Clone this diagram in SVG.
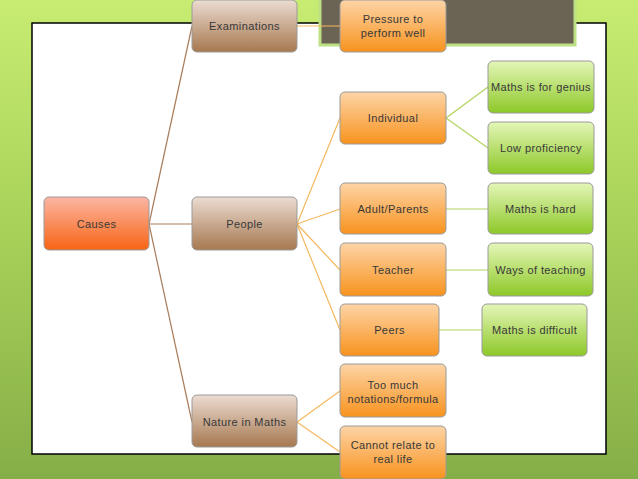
<svg xmlns="http://www.w3.org/2000/svg" width="638" height="479" viewBox="0 0 638 479">
<defs>
<linearGradient id="bg" x1="0" y1="0" x2="0" y2="1">
<stop offset="0" stop-color="#c8ec72"/>
<stop offset="0.5" stop-color="#a6d058"/>
<stop offset="1" stop-color="#86ae48"/>
</linearGradient>
<linearGradient id="gBrown" x1="0" y1="0" x2="0" y2="1">
<stop offset="0" stop-color="#ecdcd2"/>
<stop offset="1" stop-color="#a6784f"/>
</linearGradient>
<linearGradient id="gOrange" x1="0" y1="0" x2="0" y2="1">
<stop offset="0" stop-color="#fdd4a6"/>
<stop offset="1" stop-color="#f8931e"/>
</linearGradient>
<linearGradient id="gGreen" x1="0" y1="0" x2="0" y2="1">
<stop offset="0" stop-color="#e4f6b8"/>
<stop offset="1" stop-color="#8dc828"/>
</linearGradient>
<linearGradient id="gRed" x1="0" y1="0" x2="0" y2="1">
<stop offset="0" stop-color="#fcb6a4"/>
<stop offset="1" stop-color="#f86414"/>
</linearGradient>
</defs>
<style>
.box{stroke:#9a9a9a;stroke-width:1;}
.brown{fill:url(#gBrown);}
.orange{fill:url(#gOrange);}
.green{fill:url(#gGreen);}
.red{fill:url(#gRed);}
text{font-family:"Liberation Sans",Arial,sans-serif;font-size:11px;letter-spacing:0.4px;fill:#383838;text-anchor:middle;}
.c-brown{stroke:#a97c5a;stroke-width:1.2;fill:none;}
.c-orange{stroke:#f5b860;stroke-width:1.2;fill:none;}
.c-green{stroke:#b2d260;stroke-width:1.2;fill:none;}
</style>
<rect x="0" y="0" width="638" height="479" fill="url(#bg)"/>
<rect x="32" y="23" width="574" height="431" fill="#ffffff" stroke="#000" stroke-width="1.5"/>
<rect x="320" y="-3" width="255" height="48" fill="#6b6353" stroke="#bde084" stroke-width="3"/>
<g id="connectors">
<line class="c-brown" x1="149" y1="224" x2="192" y2="26"/>
<line class="c-brown" x1="149" y1="224" x2="192" y2="224"/>
<line class="c-brown" x1="149" y1="224" x2="192" y2="422"/>
<line class="c-orange" x1="297" y1="26" x2="340" y2="26"/>
<line class="c-orange" x1="297" y1="224" x2="340" y2="118"/>
<line class="c-orange" x1="297" y1="224" x2="340" y2="209"/>
<line class="c-orange" x1="297" y1="224" x2="340" y2="270"/>
<line class="c-orange" x1="297" y1="224" x2="340" y2="330"/>
<line class="c-orange" x1="297" y1="422" x2="340" y2="391"/>
<line class="c-orange" x1="297" y1="422" x2="340" y2="452"/>
<line class="c-green" x1="446" y1="118" x2="488" y2="87"/>
<line class="c-green" x1="446" y1="118" x2="488" y2="148"/>
<line class="c-green" x1="446" y1="209" x2="488" y2="209"/>
<line class="c-green" x1="446" y1="270" x2="488" y2="270"/>
<line class="c-green" x1="439" y1="330" x2="482" y2="330"/>
</g>
<g id="causes"><rect class="box red" x="44" y="197" width="105" height="53" rx="5"/><text x="96.5" y="228">Causes</text></g>
<g id="examinations"><rect class="box brown" x="192" y="0" width="105" height="52" rx="5"/><text x="244.5" y="30">Examinations</text></g>
<g id="people"><rect class="box brown" x="192" y="197" width="105" height="53" rx="5"/><text x="244.5" y="228">People</text></g>
<g id="nature"><rect class="box brown" x="192" y="395" width="105" height="52" rx="5"/><text x="244.5" y="426">Nature in Maths</text></g>
<g id="pressure"><rect class="box orange" x="340" y="0" width="106" height="52" rx="5"/><text x="393" y="23">Pressure to</text><text x="393" y="37">perform well</text></g>
<g id="individual"><rect class="box orange" x="340" y="92" width="106" height="52" rx="5"/><text x="393" y="122">Individual</text></g>
<g id="adult"><rect class="box orange" x="340" y="183" width="106" height="51" rx="5"/><text x="393" y="213">Adult/Parents</text></g>
<g id="teacher"><rect class="box orange" x="340" y="243" width="106" height="53" rx="5"/><text x="393" y="274">Teacher</text></g>
<g id="peers"><rect class="box orange" x="340" y="304" width="99" height="52" rx="5"/><text x="389.5" y="334">Peers</text></g>
<g id="toomuch"><rect class="box orange" x="340" y="364" width="106" height="53" rx="5"/><text x="393" y="389">Too much</text><text x="393" y="403">notations/formula</text></g>
<g id="cannot"><rect class="box orange" x="340" y="426" width="106" height="53" rx="5"/><text x="393" y="449">Cannot relate to</text><text x="393" y="463">real life</text></g>
<g id="genius"><rect class="box green" x="488" y="61" width="106" height="52" rx="5"/><text x="541" y="91">Maths is for genius</text></g>
<g id="lowprof"><rect class="box green" x="488" y="122" width="106" height="52" rx="5"/><text x="541" y="152">Low proficiency</text></g>
<g id="hard"><rect class="box green" x="488" y="183" width="105" height="51" rx="5"/><text x="540.5" y="213">Maths is hard</text></g>
<g id="ways"><rect class="box green" x="488" y="243" width="105" height="53" rx="5"/><text x="540.5" y="274">Ways of teaching</text></g>
<g id="difficult"><rect class="box green" x="482" y="304" width="105" height="52" rx="5"/><text x="534.5" y="334">Maths is difficult</text></g>
</svg>
